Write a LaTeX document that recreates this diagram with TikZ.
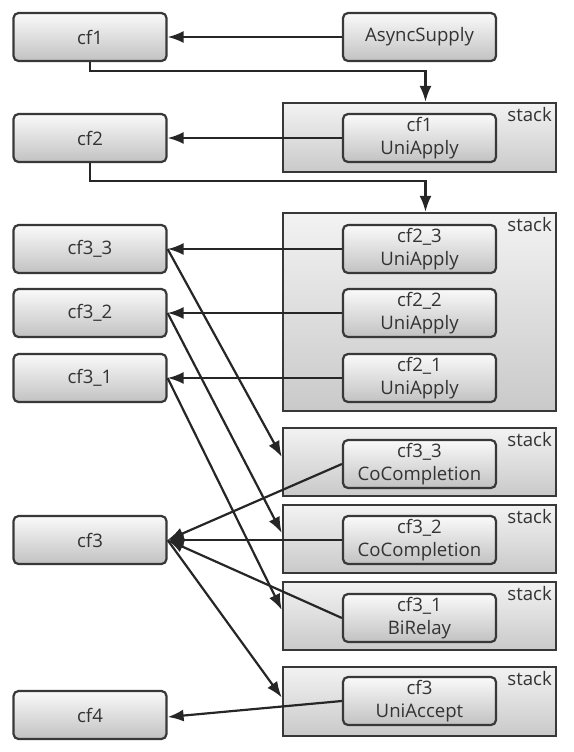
\documentclass[tikz,border=0pt]{standalone}
\usepackage{fontspec}
\setmainfont{Open Sans}
\usetikzlibrary{arrows.meta}

\begin{document}
\begin{tikzpicture}[x=0.5pt, y=-0.5pt,
        box/.style={draw=black!78, line width=1.1pt, rounded corners=2.5pt, top color=gray!4, bottom color=gray!48,
            minimum width=76.5pt, minimum height=24pt, inner sep=1pt, align=center, text=black!80,
            font=\fontsize{9.3}{11.5}\selectfont},
        stackbox/.style={draw=black!78, line width=1.2pt, top color=gray!10, bottom color=gray!42, minimum width=136.5pt,
            label={[anchor=north east, inner sep=2.5pt, text=black!80, font=\fontsize{9.3}{11}\selectfont]north east:stack}},
        arr/.style={draw=black!85, line width=1.1pt, -{Latex[length=8pt,width=6pt]}}]
        \useasboundingbox (0,0) rectangle (574,752);

        % stacks behind
        \node[stackbox, minimum height=34.5pt] (stk1) at (419.5,137.5) {};
        \node[stackbox, minimum height=99pt] (stk2) at (419.5,312) {};
        \node[stackbox, minimum height=34pt] (stk3) at (419.5,462) {};
        \node[stackbox, minimum height=34pt] (stk4) at (419.5,539) {};
        \node[stackbox, minimum height=34pt] (stk5) at (419.5,616) {};
        \node[stackbox, minimum height=34.5pt] (stk6) at (419.5,701.5) {};

        % futures
        \node[box] (cf1) at (90,37) {cf1};
        \node[box] (cf2) at (90,138) {cf2};
        \node[box] (cf33) at (90,249) {cf3\_3};
        \node[box] (cf32) at (90,313) {cf3\_2};
        \node[box] (cf31) at (90,378) {cf3\_1};
        \node[box] (cf3) at (90,540) {cf3};
        \node[box] (cf4) at (90,715) {cf4};

        % completions
        \node[box] (async) at (419.5,37) {AsyncSupply};
        \node[box] (uni1) at (419.5,138) {cf1\\UniApply};
        \node[box] (uni23) at (419.5,249) {cf2\_3\\UniApply};
        \node[box] (uni22) at (419.5,313) {cf2\_2\\UniApply};
        \node[box] (uni21) at (419.5,378) {cf2\_1\\UniApply};
        \node[box] (co33) at (419.5,464) {cf3\_3\\CoCompletion};
        \node[box] (co32) at (419.5,540) {cf3\_2\\CoCompletion};
        \node[box] (bi31) at (419.5,618) {cf3\_1\\BiRelay};
        \node[box] (acc3) at (419.5,701) {cf3\\UniAccept};

        \draw[arr] (async) -- (cf1);
        \draw[arr] (cf1.south) -- ++(0,9) -| ([xshift=3pt]stk1.north);
        \draw[arr] (uni1) -- (cf2);
        \draw[arr] (cf2.south) -- ++(0,18) -| ([xshift=3pt]stk2.north);
        \draw[arr] (uni23) -- (cf33);
        \draw[arr] (uni22) -- (cf32);
        \draw[arr] (uni21) -- (cf31);

        \draw[arr] (cf33.east) -- ([yshift=2.5pt]stk3.west);
        \draw[arr] (cf32.east) -- ([yshift=3pt]stk4.west);
        \draw[arr] (cf31.east) -- ([yshift=3pt]stk5.west);
        \draw[arr] (cf3.east) -- ([yshift=2pt]stk6.west);
        \draw[arr] (co33.west) -- (cf3.east);
        \draw[arr] (co32.west) -- (cf3.east);
        \draw[arr] (bi31.west) -- (cf3.east);
        \draw[arr] (acc3.west) -- ([yshift=-1pt]cf4.east);
    \end{tikzpicture}
\end{document}
